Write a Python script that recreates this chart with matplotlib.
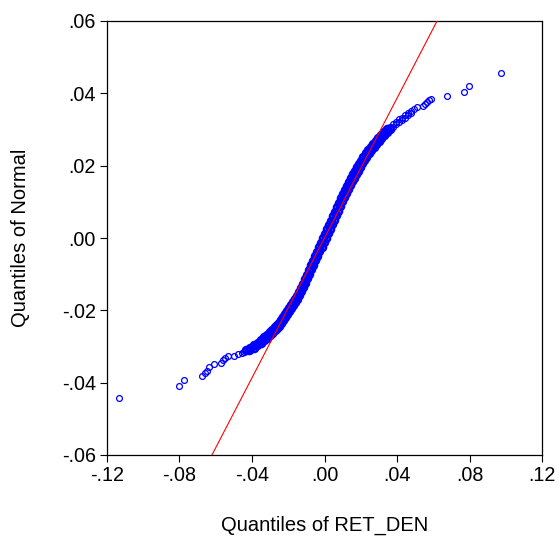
import numpy as np
import matplotlib
matplotlib.use("Agg")
import matplotlib.pyplot as plt

plt.rcParams['font.family'] = ['Liberation Sans', 'DejaVu Sans']

# Empirical quantiles of RET_DEN (x) against quantiles of the normal (y)
lower_tail_x = [-0.1135, -0.0800, -0.0776, -0.0678, -0.0661, -0.0650, -0.0639, -0.0607,
                -0.0572, -0.0561, -0.0548, -0.0533, -0.0500, -0.0476, -0.0457, -0.0446]
lower_tail_y = [-0.0442, -0.0409, -0.0393, -0.0382, -0.0373, -0.0367, -0.0357, -0.0348,
                -0.0347, -0.0338, -0.0331, -0.0326, -0.0326, -0.0322, -0.0318, -0.0314]

body_x = [
    -0.0435, -0.0414, -0.0411, -0.0391, -0.0389, -0.0370, -0.0369, -0.0351, -0.0350, -0.0333,
    -0.0333, -0.0316, -0.0317, -0.0301, -0.0303, -0.0287, -0.0289, -0.0273, -0.0275, -0.0261,
    -0.0264, -0.0250, -0.0253, -0.0239, -0.0242, -0.0228, -0.0231, -0.0216, -0.0219, -0.0205,
    -0.0208, -0.0194, -0.0197, -0.0183, -0.0186, -0.0172, -0.0175, -0.0161, -0.0164, -0.0150,
    -0.0153, -0.0139, -0.0142, -0.0128, -0.0131, -0.0116, -0.0119, -0.0105, -0.0108, -0.0094,
    -0.0097, -0.0083, -0.0086, -0.0072, -0.0075, -0.0061, -0.0064, -0.0050, -0.0053, -0.0039,
    -0.0042, -0.0028, -0.0031, -0.0016, -0.0019, -0.0005, -0.0008, 0.0007, 0.0003, 0.0018,
    0.0014, 0.0029, 0.0025, 0.0040, 0.0036, 0.0051, 0.0047, 0.0062, 0.0058, 0.0073,
    0.0069, 0.0084, 0.0081, 0.0096, 0.0092, 0.0107, 0.0103, 0.0118, 0.0114, 0.0129,
    0.0125, 0.0140, 0.0136, 0.0151, 0.0147, 0.0162, 0.0158, 0.0173, 0.0169, 0.0184,
    0.0181, 0.0196, 0.0192, 0.0207, 0.0203, 0.0218, 0.0214, 0.0230, 0.0228, 0.0244,
    0.0242, 0.0258, 0.0256, 0.0272, 0.0269, 0.0285, 0.0283, 0.0299, 0.0297, 0.0313,
    0.0311, 0.0329, 0.0328, 0.0345, 0.0344, 0.0362,
]
body_y = [
    -0.0311, -0.0311, -0.0303, -0.0304, -0.0296, -0.0297, -0.0289, -0.0290, -0.0282, -0.0283,
    -0.0275, -0.0276, -0.0268, -0.0269, -0.0261, -0.0262, -0.0254, -0.0255, -0.0247, -0.0248,
    -0.0241, -0.0242, -0.0234, -0.0235, -0.0227, -0.0227, -0.0218, -0.0218, -0.0210, -0.0210,
    -0.0202, -0.0202, -0.0194, -0.0194, -0.0185, -0.0185, -0.0177, -0.0177, -0.0169, -0.0168,
    -0.0159, -0.0158, -0.0148, -0.0147, -0.0137, -0.0136, -0.0126, -0.0124, -0.0113, -0.0111,
    -0.0101, -0.0099, -0.0088, -0.0086, -0.0076, -0.0074, -0.0064, -0.0062, -0.0051, -0.0049,
    -0.0039, -0.0037, -0.0026, -0.0024, -0.0014, -0.0012, -0.0001, 0.0001, 0.0011, 0.0014,
    0.0024, 0.0026, 0.0036, 0.0038, 0.0048, 0.0051, 0.0061, 0.0063, 0.0073, 0.0076,
    0.0086, 0.0088, 0.0098, 0.0101, 0.0111, 0.0113, 0.0122, 0.0124, 0.0133, 0.0135,
    0.0144, 0.0146, 0.0155, 0.0157, 0.0166, 0.0167, 0.0176, 0.0177, 0.0185, 0.0186,
    0.0195, 0.0196, 0.0205, 0.0206, 0.0214, 0.0215, 0.0224, 0.0225, 0.0234, 0.0235,
    0.0243, 0.0244, 0.0252, 0.0252, 0.0260, 0.0260, 0.0268, 0.0268, 0.0276, 0.0277,
    0.0285, 0.0285, 0.0293, 0.0293, 0.0301, 0.0301,
]

upper_tail_x = [0.0361, 0.0379, 0.0378, 0.0395, 0.0394, 0.0412, 0.0411, 0.0429, 0.0428, 0.0445,
                0.0444, 0.0462, 0.0461, 0.0479, 0.0478, 0.0492, 0.0513, 0.0543, 0.0552, 0.0565,
                0.0579, 0.0587, 0.0678, 0.0767, 0.0796, 0.0976]
upper_tail_y = [0.0308, 0.0308, 0.0315, 0.0315, 0.0322, 0.0321, 0.0328, 0.0327, 0.0333, 0.0332,
                0.0339, 0.0339, 0.0346, 0.0345, 0.0351, 0.0358, 0.0363, 0.0366, 0.0370, 0.0377,
                0.0382, 0.0384, 0.0393, 0.0405, 0.0421, 0.0456]

# Reference line of the fitted normal
ref_line_x = [-0.0621, 0.0621]
ref_line_y = [-0.06, 0.06]

x_ticks = [-0.12, -0.08, -0.04, 0.00, 0.04, 0.08, 0.12]
x_tick_labels = ['-.12', '-.08', '-.04', '.00', '.04', '.08', '.12']
y_ticks = [-0.06, -0.04, -0.02, 0.00, 0.02, 0.04, 0.06]
y_tick_labels = ['-.06', '-.04', '-.02', '.00', '.02', '.04', '.06']

W, H = 560, 541
fig = plt.figure(figsize=(W / 100, H / 100), dpi=100)
ax = fig.add_axes([107 / W, 1 - 455 / H, (542 - 107) / W, (455 - 21) / H])

ring = dict(linestyle='none', marker='o', markerfacecolor='none',
            markeredgecolor='#0000FF', zorder=2)
# sparse tails: thin circles
ax.plot(lower_tail_x + upper_tail_x, lower_tail_y + upper_tail_y,
        markersize=4.2, markeredgewidth=0.9, **ring)
# dense middle: overlapping circles merge into a solid band
ax.plot(body_x, body_y, markersize=5.0, markeredgewidth=1.9, **ring)
ax.plot(ref_line_x, ref_line_y, color='#FF0000', linewidth=0.8, zorder=3)

ax.set_xlim(-0.12, 0.12)
ax.set_ylim(-0.06, 0.06)
ax.set_xticks(x_ticks)
ax.set_xticklabels(x_tick_labels)
ax.set_yticks(y_ticks)
ax.set_yticklabels(y_tick_labels)
ax.tick_params(direction='out', length=5, width=0.8, labelsize=14.2, pad=3,
               top=False, right=False, colors='black')
for s in ax.spines.values():
    s.set_linewidth(0.9)
    s.set_color('black')

fig.text(324.5 / W, 1 - 525 / H, 'Quantiles of RET_DEN', ha='center', va='center', fontsize=14.5)
fig.text(21 / W, 1 - 238 / H, 'Quantiles of Normal', ha='center', va='center',
         rotation=90, fontsize=14.5)

fig.savefig('out.png', dpi=100)
